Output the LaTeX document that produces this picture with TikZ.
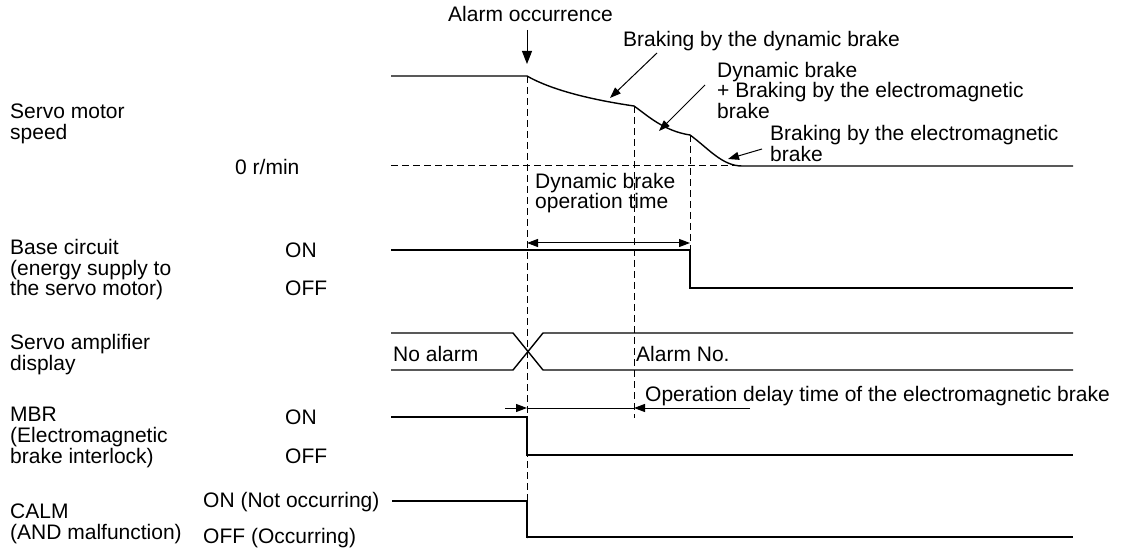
\documentclass[tikz,border=0pt]{standalone}
\usepackage{fontspec}
\setmainfont{Liberation Sans}
\usetikzlibrary{arrows.meta}
\begin{document}
\begin{tikzpicture}[x=1pt,y=-1pt,
  sig/.style={line width=1.4pt},
  dsh/.style={line width=1pt, dash pattern=on 7pt off 4pt},
  lbl/.style={anchor=base west, inner sep=0pt, align=left, font=\fontsize{21}{20.7}\selectfont},
  tip/.style={-{Triangle[length=11pt,width=8pt]}, line width=1pt},
  bigtip/.style={-{Triangle[length=13pt,width=10pt]}, line width=1pt},
  dimarr/.style={{Triangle[length=11pt,width=8pt]}-{Triangle[length=11pt,width=8pt]}, line width=1pt},
]
\useasboundingbox (0,0) rectangle (1130,553);

% key coordinates
\coordinate (A) at (527,76);
\coordinate (B) at (634,106);
\coordinate (C) at (690,135);
\coordinate (D) at (742,166);

% ---- texts (multi-line nodes: base = last line) ----
\node[lbl] (alarm) at (448,22) {Alarm occurrence};
\node[lbl] (dyn) at (623,46.7) {Braking by the dynamic brake};
\node[lbl] (dbem) at (717,118.5) {Dynamic brake\\+ Braking by the electromagnetic\\brake};
\node[lbl] (em) at (770,161.5) {Braking by the electromagnetic\\brake};
\node[lbl] (speed) at (10,139.5) {Servo motor\\speed};
\node[lbl] (zero) at (235,175) {0 r/min};
\node[lbl] (optime) at (535,209) {Dynamic brake\\operation time};
\node[lbl] (base) at (10,296) {Base circuit\\(energy supply to\\the servo motor)};
\node[lbl] (baseon) at (285,257.5) {ON};
\node[lbl] (baseoff) at (285,296) {OFF};
\node[lbl] (disp) at (10,370.5) {Servo amplifier\\display};
\node[lbl] (noalarm) at (393,361.7) {No alarm};
\node[lbl] (alarmno) at (636,361.7) {Alarm No.};
\node[lbl] (delay) at (645,401.7) {Operation delay time of the electromagnetic brake};
\node[lbl] (mbr) at (10,463) {MBR\\(Electromagnetic\\brake interlock)};
\node[lbl] (mbron) at (285,424.5) {ON};
\node[lbl] (mbroff) at (285,463) {OFF};
\node[lbl] (calm) at (10,539) {CALM\\(AND malfunction)};
\node[lbl] (calmon) at (203,507.5) {ON (Not occurring)};
\node[lbl] (calmoff) at (203,543) {OFF (Occurring)};

% ---- servo motor speed ----
\draw[sig] (391,76) -- (A)
  .. controls (555,92) and (600,101) .. (B)
  .. controls (648,116) and (664,131) .. (C)
  .. controls (708,148) and (722,166) .. (D) -- (1073,166);
\draw[dsh] (391,166) -- (D);

% ---- dashed time markers ----
\draw[dsh] (A) -- (527,538);
\draw[dsh] (B) -- (634,418);
\draw[dsh] (C) -- (690,250);

% ---- alarm arrow ----
\coordinate (aTop) at (527,30);
\coordinate (aTip) at (527,64);
\draw[bigtip] (aTop) -- (aTip);

% ---- braking arrows ----
\coordinate (dynS) at (657,53);
\coordinate (dynT) at (610,98);
\draw[tip] (dynS) -- (dynT);
\coordinate (dbemS) at (705,85);
\coordinate (dbemT) at (659,131);
\draw[tip] (dbemS) -- (dbemT);
\coordinate (emS) at (762,149);
\coordinate (emT) at (728,159);
\draw[tip] (emS) -- (emT);

% ---- dynamic brake operation time ----
\coordinate (dimL) at (527,243);
\coordinate (dimR) at (690,243);
\draw[dimarr] (dimL) -- (dimR);

% ---- base circuit ----
\draw[sig] (391,250) -- (690,250) -- (690,288) -- (1073,288);

% ---- servo amplifier display ----
\draw[sig] (391,333) -- (513,333) -- (543,370) -- (1073,370);
\draw[sig] (391,370) -- (513,370) -- (543,333) -- (1073,333);

% ---- MBR ----
\draw[sig] (391,417) -- (527,417) -- (527,455) -- (1073,455);
\coordinate (mL) at (505,408);
\coordinate (m1) at (527,408);
\coordinate (m2) at (634,408);
\coordinate (mR) at (750,408);
\draw[tip] (mL) -- (m1);
\draw[line width=1pt] (m1) -- (m2);
\draw[tip] (mR) -- (m2);

% ---- CALM ----
\draw[sig] (392,501) -- (527,501) -- (527,537) -- (1073,537);
\end{tikzpicture}
\end{document}
